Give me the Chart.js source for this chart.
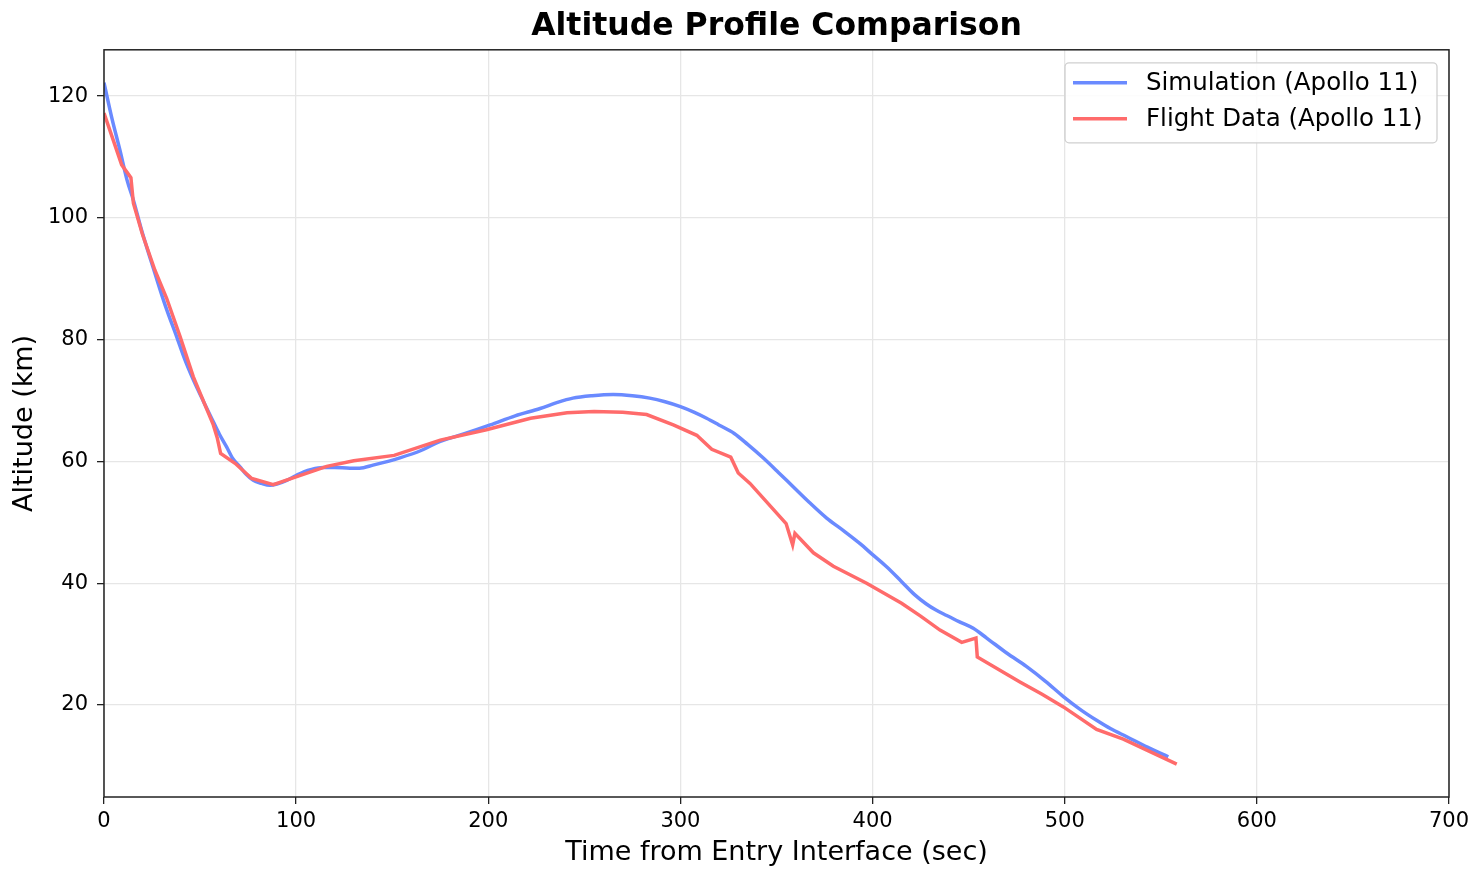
<!DOCTYPE html>
<html>
<head>
<meta charset="utf-8">
<script src="https://cdn.jsdelivr.net/npm/chart.js@4.4.1/dist/chart.umd.min.js"></script>
<style>
    body { margin: 0; background: #fff; }
    #wrap { width: 1484px; height: 882px; }
</style>
</head>
<body>
<div id="wrap"><canvas id="altChart" width="1484" height="882"></canvas></div>
<script>
// Simulation (Apollo 11): time (s) and altitude (km)
const simTime = [0, 4, 8.3, 12, 15.3, 20, 26.5, 32, 37.8, 42, 46.5, 52, 56.9, 60, 63.8, 67, 70.8, 74, 77.7, 82,
    86.4, 90, 95.1, 100, 104, 108, 114, 120, 128, 133, 140, 154, 165, 175, 188, 201, 214, 227, 236, 244,
    254, 265, 275, 284, 292, 300, 307, 313.6, 320, 328, 335, 343, 351, 358.8, 367, 376.1, 385, 393.5, 400, 407.3,
    415, 422, 428, 433, 438.6, 445, 452.4, 459.4, 470, 480.2, 490, 499.3, 508, 516.6, 524, 532.3, 543, 553.9];
const simAlt = [122.2, 116.5, 111.1, 106.2, 102.9, 97.5, 90.9, 85.5, 80.5, 76.8, 73.4, 69.7, 66.5, 64.5, 62.4, 60.5, 59.1, 57.9, 56.9, 56.4,
    56.1, 56.3, 56.9, 57.7, 58.3, 58.7, 59.0, 59.0, 58.9, 58.9, 59.4, 60.6, 61.8, 63.3, 64.6, 66.0, 67.5, 68.7, 69.7, 70.4,
    70.8, 71.0, 70.8, 70.4, 69.8, 69.0, 68.1, 67.1, 66.0, 64.6, 62.8, 60.6, 58.2, 55.8, 53.3, 50.7, 48.6, 46.5, 44.7, 42.7,
    40.3, 38.1, 36.6, 35.6, 34.7, 33.7, 32.6, 31.0, 28.5, 26.3, 23.9, 21.4, 19.3, 17.5, 16.1, 14.8, 13.1, 11.5];

// Flight Data (Apollo 11)
const flightTime = [0, 9.2, 14, 15.3, 20, 26.5, 32.6, 39.6, 46.5, 56.9, 59, 60.7, 68.2, 76.9, 88.1, 100.3, 115.9, 130, 151, 175,
    199, 222, 241, 255, 270, 282.4, 296.3, 308.5, 316.3, 326.2, 330.1, 336.2, 355, 358.4, 359.6, 369.2, 379.6, 396.9, 415.1, 425,
    435.1, 446.4, 453.8, 454.5, 476.7, 488, 499.3, 516.6, 530.5, 558.3];
const flightAlt = [117.2, 108.7, 106.6, 102.4, 97.3, 91.4, 86.8, 80.5, 73.9, 66.0, 63.8, 61.3, 59.7, 57.2, 56.2, 57.5, 59.2, 60.1, 61.0, 63.5,
    65.2, 67.1, 68.0, 68.2, 68.1, 67.7, 66.0, 64.3, 62.0, 60.7, 58.1, 56.4, 49.8, 46.3, 48.2, 45.0, 42.8, 40.0, 36.7, 34.6,
    32.3, 30.3, 31.0, 27.9, 23.8, 21.8, 19.7, 16.0, 14.4, 10.3];

const xTicks = [0, 100, 200, 300, 400, 500, 600, 700];
const yTicks = [20, 40, 60, 80, 100, 120];

const simColor = "rgb(106,138,255)";
const flightColor = "rgb(255,107,107)";
const fontFamily = "'DejaVu Sans', sans-serif";

function toPoints(xs, ys) {
    return xs.map((x, i) => ({ x: x, y: ys[i] }));
}

// full box round the plot, like matplotlib's spines
const framePlugin = {
    id: "frame",
    afterDatasetsDraw(chart) {
        const { ctx, chartArea: a } = chart;
        ctx.save();
        ctx.strokeStyle = "#222";
        ctx.lineWidth = 1.5;
        ctx.strokeRect(a.left, a.top, a.right - a.left, a.bottom - a.top);
        ctx.restore();
    }
};

// legend drawn inside the plot, upper right
const insideLegend = {
    id: "insideLegend",
    afterDraw(chart) {
        const { ctx, chartArea: a } = chart;
        const right = a.right - 12;
        const top = a.top + 13;
        const w = 372, h = 80;
        const left = right - w;
        ctx.save();
        ctx.fillStyle = "rgba(255,255,255,0.85)";
        ctx.strokeStyle = "#d0d0d0";
        ctx.lineWidth = 1.3;
        ctx.beginPath();
        ctx.roundRect(left, top, w, h, 4);
        ctx.fill();
        ctx.stroke();
        ctx.font = "24.5px " + fontFamily;
        ctx.textBaseline = "middle";
        ctx.fillStyle = "#000";
        chart.data.datasets.forEach((ds, i) => {
            const y = top + 20 + i * 36;
            ctx.strokeStyle = ds.borderColor;
            ctx.lineWidth = 3.5;
            ctx.beginPath();
            ctx.moveTo(left + 8, y);
            ctx.lineTo(left + 62, y);
            ctx.stroke();
            ctx.fillText(ds.label, left + 81, y + 1);
        });
        ctx.restore();
    }
};

new Chart(document.getElementById("altChart"), {
    type: "line",
    data: {
        datasets: [{
            label: "Simulation (Apollo 11)",
            data: toPoints(simTime, simAlt),
            borderColor: simColor,
            borderWidth: 3.5,
            pointRadius: 0,
            tension: 0.4,
            cubicInterpolationMode: "monotone",
            fill: false,
            order: 2
        },
        {
            label: "Flight Data (Apollo 11)",
            data: toPoints(flightTime, flightAlt),
            borderColor: flightColor,
            borderWidth: 3.5,
            pointRadius: 0,
            tension: 0,
            fill: false,
            order: 1
        }]
    },
    options: {
        responsive: false,
        animation: false,
        devicePixelRatio: 1,
        layout: { padding: { top: 0, right: 35, bottom: 0, left: 0 } },
        plugins: {
            legend: { display: false },
            tooltip: { enabled: false },
            title: {
                display: true,
                fullSize: false,
                text: "Altitude Profile Comparison",
                color: "#000",
                font: { family: fontFamily, size: 31.5, weight: "bold", lineHeight: 1.2 },
                padding: { top: 8, bottom: 4 }
            }
        },
        scales: {
            x: {
                type: "linear",
                min: 0,
                max: 700,
                afterBuildTicks: (scale) => { scale.ticks = xTicks.map(v => ({ value: v })); },
                afterFit: (scale) => { scale.height = 85; },
                border: { display: false },
                grid: { color: "#e6e6e6", lineWidth: 1.3, tickColor: "#222", tickLength: 7, tickWidth: 1.3 },
                ticks: { color: "#000", padding: 5, maxRotation: 0, font: { family: fontFamily, size: 21 } },
                title: {
                    display: true,
                    text: "Time from Entry Interface (sec)",
                    color: "#000",
                    font: { family: fontFamily, size: 27, lineHeight: 1.2 },
                    padding: { top: 0, bottom: 13 }
                }
            },
            y: {
                type: "linear",
                min: 4.9,
                max: 127.6,
                afterBuildTicks: (scale) => { scale.ticks = yTicks.map(v => ({ value: v })); },
                afterFit: (scale) => { scale.width = 104; },
                border: { display: false },
                grid: { color: "#e6e6e6", lineWidth: 1.3, tickColor: "#222", tickLength: 7, tickWidth: 1.3 },
                ticks: { color: "#000", padding: 9, font: { family: fontFamily, size: 21 } },
                title: {
                    display: true,
                    text: "Altitude (km)",
                    color: "#000",
                    font: { family: fontFamily, size: 27, lineHeight: 1.2 },
                    padding: { top: 9, bottom: 0 }
                }
            }
        }
    },
    plugins: [framePlugin, insideLegend]
});
</script>
</body>
</html>
